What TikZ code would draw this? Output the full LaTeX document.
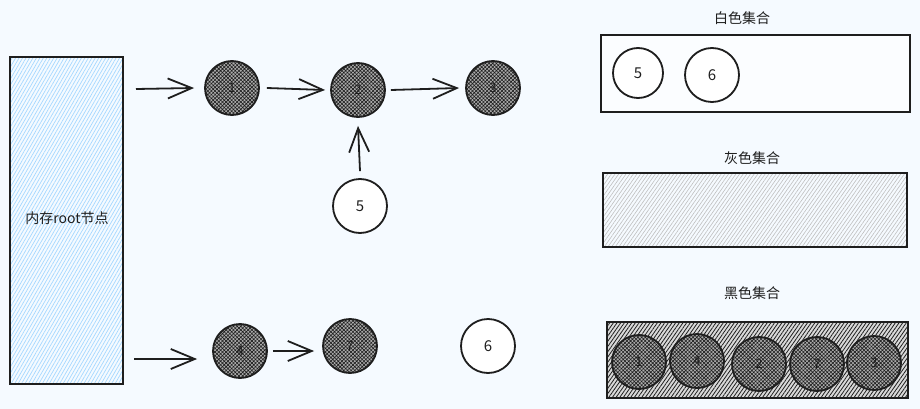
\documentclass[tikz,border=0pt]{standalone}
\usepackage{fontspec}
\setmainfont{Noto Sans CJK SC}
\newfontfamily\cjk{Noto Sans CJK SC}
\usetikzlibrary{arrows.meta,patterns.meta}
\definecolor{bgc}{HTML}{F5FAFF}
\definecolor{rootblue}{HTML}{A5D8FF}
\definecolor{inkc}{HTML}{1E1E1E}
\tikzset{
  blacknode/.style={circle,draw=inkc,line width=1.8pt,minimum size=54pt,inner sep=0pt,
    fill=gray!65,postaction={pattern={Hatch[angle=45,distance=2.6pt,line width=0.6pt]},pattern color=inkc},
    font=\fontsize{13}{13}\selectfont,text=inkc},
  whitenode/.style={circle,draw=inkc,line width=1.8pt,minimum size=54pt,inner sep=0pt,fill=white,
    font=\fontsize{15}{15}\selectfont,text=inkc},
  link/.style={draw=inkc,line width=1.8pt,-{Straight Barb[length=24pt,width=20pt,line width=1.8pt]}},
  setbox/.style={draw=inkc,line width=1.8pt,inner sep=0pt},
  setlabel/.style={font=\cjk\fontsize{14}{14}\selectfont,text=inkc},
}
\begin{document}
\begin{tikzpicture}[x=1pt,y=-1pt]
\fill[bgc] (0,0) rectangle (920,409);
\useasboundingbox (0,0) rectangle (920,409);
% root
\fill[bgc] (10,57) rectangle (123,384);
\fill[pattern={Lines[angle=60,distance=3pt,line width=0.7pt]},pattern color=rootblue] (10,57) rectangle (123,384);
\node[setbox,minimum width=113pt,minimum height=327pt] (root) at (66.5,220.5) {};
\node[font=\cjk\fontsize{14}{14}\selectfont,text=inkc] (rootlbl) at (67,218) {内存root节点};
% chain nodes
\node[blacknode] (n1) at (232,88) {1};
\node[blacknode] (n2) at (358,90) {2};
\node[blacknode] (n3) at (493,88) {3};
\node[whitenode] (n5) at (360,206) {5};
\node[blacknode] (n4) at (240,351) {4};
\node[blacknode] (n7) at (350,346) {7};
\node[whitenode] (n6) at (488,346) {6};
\coordinate (r1) at (136,89);
\coordinate (r4) at (134,359);
\draw[link] (r1) -- ([xshift=-10pt]n1.west);
\draw[link] ([xshift=7pt]n1.east) -- ([xshift=-5pt]n2.west);
\draw[link] ([xshift=5pt]n2.east) -- ([xshift=-6pt]n3.west);
\draw[link] ([yshift=7pt]n5.north) -- ([yshift=-8pt]n2.south);
\draw[link] (r4) -- ([xshift=-15pt]n4.west |- r4);
\draw[link] ([xshift=5pt]n4.east) -- ([xshift=-8pt]n7.west |- n4.east);
% white set
\node[setlabel] (wl) at (742,18) {白色集合};
\node[setbox,minimum width=309pt,minimum height=77pt,fill=white!60!bgc] (wbox) at (755.5,73.5) {};
\node[whitenode,minimum size=50pt] (w5) at (638,73) {5};
\node[whitenode] (w6) at (712,75) {6};
% gray set
\node[setlabel] (gl) at (752,158) {灰色集合};
\fill[pattern={Lines[angle=55,distance=3pt,line width=0.6pt]},pattern color=gray!50] (603,173) rectangle (907,247);
\node[setbox,minimum width=304pt,minimum height=74pt] (gbox) at (755,210) {};
% black set
\node[setlabel] (bl) at (752,293) {黑色集合};
\fill[gray!30] (607,322) rectangle (908,398);
\fill[pattern={Lines[angle=55,distance=3pt,line width=0.8pt]},pattern color=inkc] (607,322) rectangle (908,398);
\node[setbox,minimum width=301pt,minimum height=76pt] (bbox) at (757.5,360) {};
\node[blacknode] (b1) at (639,362) {1};
\node[blacknode] (b4) at (697,361) {4};
\node[blacknode] (b2) at (759,364) {2};
\node[blacknode] (b7) at (817,364) {7};
\node[blacknode] (b3) at (874,363) {3};
\end{tikzpicture}
\end{document}
